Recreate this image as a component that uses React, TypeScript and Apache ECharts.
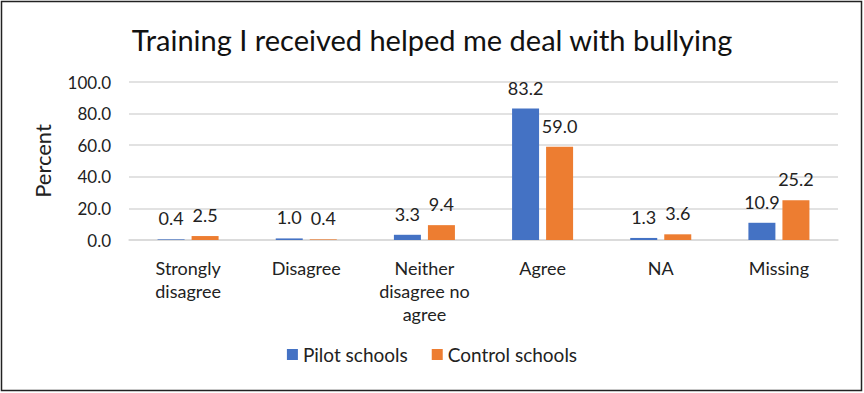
import React, { useEffect, useRef } from "react";
import * as echarts from "echarts";

const categories = ["Strongly\ndisagree", "Disagree", "Neither\ndisagree no\nagree", "Agree", "NA", "Missing"];
const pilotValues = [0.4, 1.0, 3.3, 83.2, 1.3, 10.9];
const controlValues = [2.5, 0.4, 9.4, 59.0, 3.6, 25.2];
const seriesNames = ["Pilot schools", "Control schools"];
const titleText = "Training I received helped me deal with bullying";

const FONT = "Lato, 'Open Sans', sans-serif";

export default function App() {
  const ref = useRef<HTMLDivElement>(null);
  useEffect(() => {
    if (!ref.current) return;
    const chart = echarts.init(ref.current, undefined, { renderer: "svg" });
    const label = {
      show: true,
      position: "top" as const,
      distance: 12,
      formatter: (p: any) => Number(p.value).toFixed(1),
      fontFamily: FONT,
      fontSize: 18,
      color: "#222",
    };
    chart.setOption({
      animation: false,
      backgroundColor: "#fff",
      title: {
        text: titleText,
        left: "center",
        top: 20,
        textStyle: { fontFamily: FONT, fontSize: 29, fontWeight: "normal", color: "#111" },
      },
      graphic: [
        {
          type: "rect",
          shape: { x: 1.5, y: 1.5, width: 860, height: 389 },
          style: { fill: "none", stroke: "#222", lineWidth: 1.5 },
          silent: true,
        },
      ],
      legend: {
        bottom: 24,
        left: "center",
        itemWidth: 11,
        itemHeight: 11,
        itemGap: 24,
        icon: "rect",
        textStyle: { fontFamily: FONT, fontSize: 19, color: "#222" },
        data: seriesNames,
      },
      grid: { left: 129, right: 26, top: 82, bottom: 153, containLabel: false },
      xAxis: {
        type: "category",
        data: categories,
        axisLine: { lineStyle: { color: "#d9d9d9", width: 1.5 } },
        axisTick: { show: false },
        axisLabel: { fontFamily: FONT, fontSize: 18, color: "#222", margin: 16, lineHeight: 23, interval: 0 },
      },
      yAxis: {
        type: "value",
        min: 0,
        max: 100,
        interval: 20,
        name: "Percent",
        nameLocation: "middle",
        nameGap: 76,
        nameTextStyle: { fontFamily: FONT, fontSize: 22, color: "#222" },
        axisLabel: {
          fontFamily: FONT,
          fontSize: 17,
          color: "#222",
          margin: 18,
          formatter: (v: number) => v.toFixed(1),
        },
        splitLine: { lineStyle: { color: "#d9d9d9", width: 1.5 } },
        axisLine: { show: false },
        axisTick: { show: false },
      },
      series: [
        {
          name: seriesNames[0],
          type: "bar",
          data: pilotValues,
          barWidth: 27,
          barGap: "26%",
          itemStyle: { color: "#4472c4" },
          label,
        },
        {
          name: seriesNames[1],
          type: "bar",
          data: controlValues,
          barWidth: 27,
          itemStyle: { color: "#ed7d31" },
          label,
        },
      ],
    });
    return () => chart.dispose();
  }, []);
  return <div ref={ref} style={{ position: "absolute", left: 0, top: 0, width: 864, height: 393 }} />;
}
